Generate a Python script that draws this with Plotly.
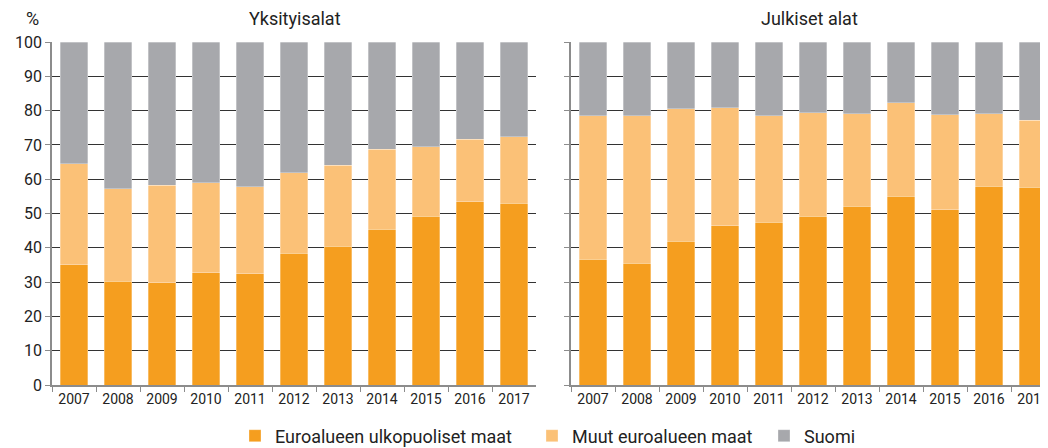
import plotly.graph_objects as go

years = ["2007", "2008", "2009", "2010", "2011", "2012", "2013", "2014", "2015", "2016", "2017"]

# Yksityisalat (private sectors)
priv_outside = [35.1, 30.2, 29.8, 32.8, 32.5, 38.4, 40.4, 45.4, 49.2, 53.5, 53.0]
priv_other_euro = [29.4, 27.0, 28.5, 26.1, 25.3, 23.5, 23.7, 23.3, 20.3, 18.2, 19.4]
priv_finland = [35.5, 42.8, 41.7, 41.1, 42.2, 38.1, 35.9, 31.3, 30.5, 28.3, 27.6]

# Julkiset alat (public sectors)
pub_outside = [36.6, 35.5, 41.9, 46.5, 47.4, 49.2, 52.1, 55.0, 51.1, 57.9, 57.6]
pub_other_euro = [41.9, 43.0, 38.7, 34.3, 31.1, 30.2, 27.0, 27.3, 27.7, 21.2, 19.6]
pub_finland = [21.5, 21.5, 19.4, 19.2, 21.5, 20.6, 20.9, 17.7, 21.2, 20.9, 22.8]

series_names = ["Euroalueen ulkopuoliset maat", "Muut euroalueen maat", "Suomi"]
colors = ["#F59E1F", "#FBC177", "#A7A8AC"]
legend_ids = ["legend", "legend2", "legend3"]

FONT = "Roboto, Arial"

fig = go.Figure()
panels = [
    ("x", "y", [priv_outside, priv_other_euro, priv_finland], True),
    ("x2", "y2", [pub_outside, pub_other_euro, pub_finland], False),
]
for xa, ya, vals, show in panels:
    for name, v, c, lg in zip(series_names, vals, colors, legend_ids):
        fig.add_trace(go.Bar(
            x=years, y=v, name=name, xaxis=xa, yaxis=ya,
            marker=dict(color=c, line=dict(color="rgba(255,255,255,0.6)", width=0.5)),
            showlegend=show, legend=lg,
        ))

# page body has an 8px margin, so the figure is 8px smaller and all pixel
# positions are given relative to the figure (reference pixel - 8)
W, H = 1040, 440
T, B = 34, 63
PH = H - T - B


def py(p):
    """figure pixel row -> paper y"""
    return (H - B - p) / PH


line_common = dict(showline=True, linecolor="#8c8c8c", linewidth=1.5,
                   ticks="outside", ticklen=5, tickcolor="#8c8c8c")
xfont = dict(family=FONT, size=14, color="#222")
yfont = dict(family=FONT, size=16, color="#222")
legend_common = dict(orientation="h", yref="container", y=(H - 428) / H, yanchor="middle",
                     xanchor="left", font=dict(family=FONT, size=18, color="#222"),
                     itemwidth=30, bgcolor="rgba(0,0,0,0)")
title_font = dict(family=FONT, size=18, color="#222")
fig.update_layout(
    width=W, height=H,
    margin=dict(l=0, r=0, t=T, b=B, autoexpand=False),
    barmode="stack", bargap=0.38,
    plot_bgcolor="white", paper_bgcolor="white",
    font=dict(family=FONT, size=14, color="#222"),
    xaxis=dict(domain=[44 / W, 528 / W], type="category", tickson="boundaries",
               range=[-0.5, 10.5], anchor="y", tickfont=xfont, **line_common),
    xaxis2=dict(domain=[563 / W, 1.0], type="category", tickson="boundaries",
                range=[-0.5, 10.5 - 7 / 44], anchor="y2", tickfont=xfont, **line_common),
    yaxis=dict(range=[0, 100], dtick=10, showgrid=True, gridcolor="#333333", gridwidth=1,
               anchor="x", automargin=False, tickfont=yfont, **line_common),
    yaxis2=dict(range=[0, 100], dtick=10, showgrid=True, gridcolor="#333333", gridwidth=1,
                showticklabels=False, anchor="x2", automargin=False, tickfont=yfont,
                **line_common),
    legend=dict(x=227 / W, **legend_common),
    legend2=dict(x=524 / W, **legend_common),
    legend3=dict(x=756 / W, **legend_common),
    annotations=[
        dict(text="%", x=24 / W, y=py(11), xref="paper", yref="paper", showarrow=False,
             xanchor="center", yanchor="middle", font=title_font),
        dict(text="Yksityisalat", x=287 / W, y=py(11), xref="paper", yref="paper",
             xanchor="center", yanchor="middle", showarrow=False, font=title_font),
        dict(text="Julkiset alat", x=801 / W, y=py(11), xref="paper", yref="paper",
             xanchor="center", yanchor="middle", showarrow=False, font=title_font),
    ],
)

fig.write_html("out.html")
